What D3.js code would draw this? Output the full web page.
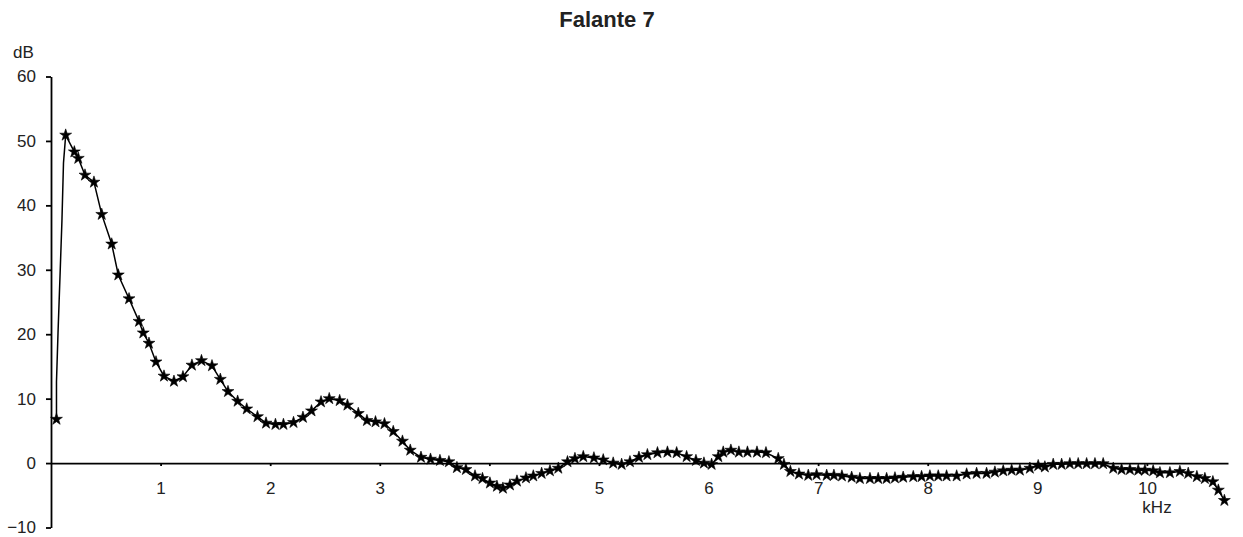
<!DOCTYPE html>
<html>
<head>
<meta charset="utf-8">
<script src="https://cdn.jsdelivr.net/npm/d3@7"></script>
<style>
  html, body { margin: 0; padding: 0; background: #fff; }
  svg { display: block; font-family: "Liberation Sans", Arial, Helvetica, sans-serif; }
  .tick text { fill: #222; font-size: 17px; }
  .domain, .tick line { stroke: #000; stroke-width: 1.8; }
</style>
</head>
<body>
<svg id="chart" width="1243" height="537"></svg>
<script>
// Frequency response of loudspeaker 7 (kHz vs dB)
const title = "Falante 7";

// Steep onset between the first measured point and the peak (no markers)
const riseKhz = [0.050, 0.064, 0.082, 0.100, 0.114];
const riseDb  = [12.6, 20.2, 28.9, 37.7, 46.6];

// Measured points (drawn with markers)
const freqKhz = [
  0.050, 0.134, 0.213, 0.249, 0.310, 0.392, 0.463, 0.554, 0.614, 0.712,
  0.803, 0.842, 0.894, 0.958, 1.031, 1.122, 1.204, 1.286, 1.373, 1.469,
  1.545, 1.615, 1.703, 1.786, 1.884, 1.962, 2.048, 2.121, 2.213, 2.299,
  2.377, 2.464, 2.539, 2.634, 2.705, 2.804, 2.883, 2.961, 3.043, 3.123,
  3.207, 3.278, 3.376, 3.463, 3.549, 3.631, 3.704, 3.786, 3.869, 3.937,
  4.005, 4.069, 4.124, 4.188, 4.252, 4.334, 4.401, 4.477, 4.553, 4.629,
  4.713, 4.781, 4.857, 4.954, 5.039, 5.130, 5.207, 5.283, 5.365, 5.442,
  5.534, 5.625, 5.709, 5.800, 5.885, 5.958, 6.028, 6.089, 6.134, 6.204,
  6.277, 6.355, 6.442, 6.524, 6.636, 6.688, 6.747, 6.825, 6.910, 6.986,
  7.078, 7.144, 7.217, 7.306, 7.381, 7.473, 7.548, 7.625, 7.701, 7.776,
  7.868, 7.944, 8.020, 8.096, 8.172, 8.264, 8.355, 8.446, 8.537, 8.613,
  8.689, 8.766, 8.841, 8.932, 9.008, 9.069, 9.145, 9.222, 9.297, 9.373,
  9.450, 9.526, 9.601, 9.693, 9.769, 9.845, 9.921, 9.982, 10.057, 10.119,
  10.210, 10.301, 10.377, 10.456, 10.529, 10.602, 10.652, 10.707
];
const levelDb = [
  6.8, 50.9, 48.3, 47.3, 44.7, 43.6, 38.6, 34.0, 29.2, 25.5,
  22.0, 20.2, 18.6, 15.7, 13.5, 12.7, 13.4, 15.2, 15.9, 15.1,
  13.0, 11.1, 9.6, 8.4, 7.2, 6.2, 6.0, 6.0, 6.3, 7.1,
  8.1, 9.5, 10.0, 9.7, 9.0, 7.7, 6.6, 6.4, 6.1, 4.9,
  3.4, 2.0, 0.9, 0.6, 0.4, 0.2, -0.7, -1.0, -2.0, -2.4,
  -3.1, -3.6, -3.9, -3.4, -2.8, -2.3, -2.0, -1.6, -1.2, -0.8,
  0.2, 0.7, 1.0, 0.8, 0.5, 0.0, -0.2, 0.2, 0.9, 1.3,
  1.6, 1.7, 1.6, 1.0, 0.4, 0.0, -0.2, 1.0, 1.7, 2.0,
  1.7, 1.7, 1.7, 1.6, 0.7, -0.2, -1.3, -1.7, -1.9, -1.8,
  -1.9, -1.9, -2.0, -2.2, -2.4, -2.4, -2.4, -2.4, -2.3, -2.2,
  -2.1, -2.1, -2.0, -2.0, -2.0, -2.0, -1.7, -1.6, -1.6, -1.4,
  -1.2, -1.1, -1.1, -0.8, -0.4, -0.6, -0.2, -0.2, -0.1, -0.1,
  -0.1, -0.1, -0.1, -0.8, -1.0, -1.0, -1.1, -1.1, -1.2, -1.5,
  -1.5, -1.3, -1.6, -2.1, -2.4, -2.9, -4.2, -5.8
];

// Axis ticks
const yTicks = [-10, 0, 10, 20, 30, 40, 50, 60];
const xTicks = [1, 2, 3, 4, 5, 6, 7, 8, 9, 10];
const xTickLabels = ["1", "2", "3", "", "5", "6", "7", "8", "9", "10"];

const svg = d3.select("#chart");

const x = d3.scaleLinear().domain([0, 10.74]).range([51, 1228]);
const y = d3.scaleLinear().domain([-10, 60]).range([527.5, 76.5]);

// Y axis on the left
svg.append("g")
  .attr("transform", `translate(${x(0)},0)`)
  .call(d3.axisLeft(y).tickValues(yTicks).tickSize(5).tickSizeOuter(0).tickPadding(10)
    .tickFormat(d3.format("d")));

// X axis along the 0 dB line
svg.append("g")
  .attr("transform", `translate(0,${y(0)})`)
  .call(d3.axisBottom(x).tickValues(xTicks).tickSize(3).tickSizeOuter(0).tickPadding(16)
    .tickFormat((d, i) => xTickLabels[i]));

svg.selectAll(".tick text").style("font-size", "17px");

// Curve: first point, onset, then the remaining measured points
const pts = [[freqKhz[0], levelDb[0]]]
  .concat(riseKhz.map((f, i) => [f, riseDb[i]]))
  .concat(freqKhz.slice(1).map((f, i) => [f, levelDb[i + 1]]));

svg.append("path")
  .datum(pts)
  .attr("fill", "none")
  .attr("stroke", "#000")
  .attr("stroke-width", 1.5)
  .attr("d", d3.line().x(d => x(d[0])).y(d => y(d[1])));

// Markers
const star = d3.symbol().type(d3.symbolStar).size(44);
svg.append("g")
  .selectAll("path")
  .data(freqKhz.map((f, i) => [f, levelDb[i]]))
  .join("path")
  .attr("transform", d => `translate(${x(d[0])},${y(d[1])})`)
  .attr("d", star)
  .attr("fill", "#000")
  .attr("stroke", "#000")
  .attr("stroke-width", 0.6);

// Labels
svg.append("text")
  .attr("x", 607).attr("y", 27)
  .attr("text-anchor", "middle")
  .attr("font-size", 22).attr("font-weight", "bold").attr("fill", "#222")
  .text(title);

svg.append("text")
  .attr("x", 13).attr("y", 58)
  .attr("font-size", 17).attr("fill", "#222")
  .text("dB");

svg.append("text")
  .attr("x", 1157).attr("y", 513)
  .attr("text-anchor", "middle")
  .attr("font-size", 17).attr("fill", "#222")
  .text("kHz");
</script>
</body>
</html>
